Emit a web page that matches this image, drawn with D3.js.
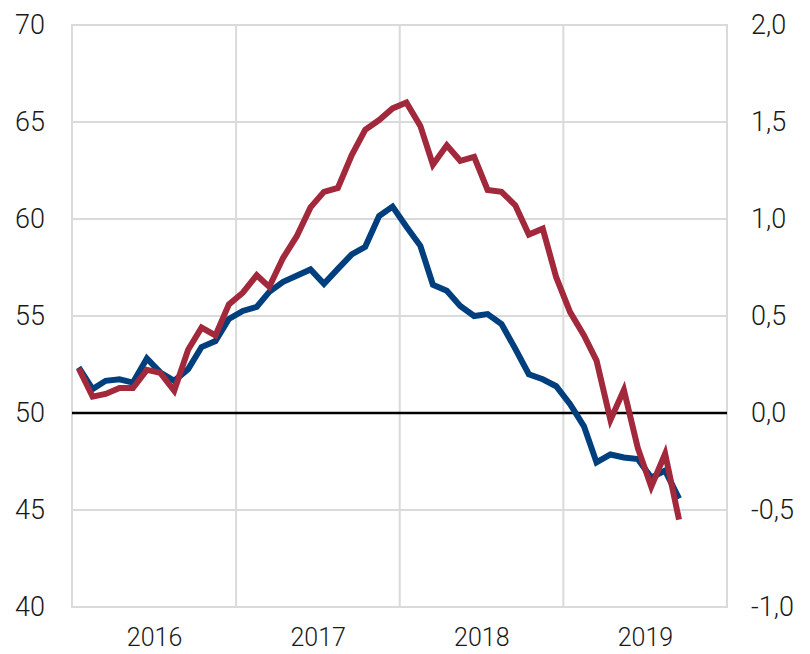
<!DOCTYPE html>
<html>
<head>
<meta charset="utf-8">
<script src="https://cdn.jsdelivr.net/npm/d3@7"></script>
<style>
  body { margin: 0; background: #fff; }
  svg text { font-family: Roboto, "Liberation Sans", Arial, sans-serif; font-weight: 300; fill: #1a1a1a; }
</style>
</head>
<body>
<div id="chart"></div>
<script>
// monthly data, Jan 2016 - Sep 2019
const startMonth = [2016, 0];
const blueValues = [52.35, 51.23, 51.66, 51.74, 51.57, 52.81, 52.09, 51.66, 52.26, 53.40,
  53.71, 54.85, 55.26, 55.47, 56.24, 56.76, 57.07, 57.40, 56.66, 57.43,
  58.18, 58.57, 60.15, 60.64, 59.60, 58.62, 56.61, 56.30, 55.52, 55.00,
  55.10, 54.59, 53.30, 52.00, 51.74, 51.38, 50.45, 49.31, 47.45, 47.86,
  47.71, 47.63, 46.67, 47.03, 45.59];
const redValues = [0.23, 0.084, 0.098, 0.129, 0.129, 0.222, 0.207, 0.115, 0.326, 0.44,
  0.40, 0.56, 0.62, 0.71, 0.65, 0.80, 0.91, 1.06, 1.14, 1.16,
  1.33, 1.46, 1.51, 1.57, 1.60, 1.48, 1.28, 1.38, 1.30, 1.32,
  1.15, 1.14, 1.07, 0.92, 0.95, 0.70, 0.52, 0.40, 0.27, -0.036,
  0.119, -0.18, -0.38, -0.21, -0.55];
const years = [2016, 2017, 2018, 2019];
const leftTicks = [40, 45, 50, 55, 60, 65, 70];
const rightTicks = [-1, -0.5, 0, 0.5, 1, 1.5, 2];

const W = 810, H = 654;
const m = { left: 72, right: 83, top: 25, bottom: 47 };

const svg = d3.select('#chart').append('svg').attr('width', W).attr('height', H);

const x = d3.scaleTime()
  .domain([new Date(2016, 0, 1), new Date(2020, 0, 1)])
  .range([m.left, W - m.right]);
const yL = d3.scaleLinear().domain([40, 70]).range([H - m.bottom, m.top]);
const yR = d3.scaleLinear().domain([-1, 2]).range([H - m.bottom, m.top]);

const mid = i => new Date(startMonth[0], startMonth[1] + i, 16);
const fmtR = d => d3.format('.1f')(d).replace('.', ',').replace('−', '-');

// grid
const grid = svg.append('g').attr('stroke', '#dadada').attr('stroke-width', 2);
leftTicks.forEach(t => {
  grid.append('line').attr('x1', m.left).attr('x2', W - m.right)
    .attr('y1', yL(t)).attr('y2', yL(t));
});
years.concat([2020]).forEach(yr => {
  grid.append('line').attr('x1', x(new Date(yr, 0, 1))).attr('x2', x(new Date(yr, 0, 1)))
    .attr('y1', m.top - 1).attr('y2', H - m.bottom + 1);
});

// zero line
svg.append('line').attr('x1', m.left).attr('x2', W - m.right)
  .attr('y1', yL(50)).attr('y2', yL(50)).attr('stroke', '#000').attr('stroke-width', 2.5);

// axes
const axL = svg.append('g').attr('transform', `translate(${m.left},0)`)
  .call(d3.axisLeft(yL).tickValues(leftTicks).tickSize(0).tickPadding(27));
const axR = svg.append('g').attr('transform', `translate(${W - m.right},0)`)
  .call(d3.axisRight(yR).tickValues(rightTicks).tickSize(0).tickPadding(24).tickFormat(fmtR));
const axB = svg.append('g').attr('transform', `translate(0,${H - m.bottom})`)
  .call(d3.axisBottom(x).tickValues(years.map(yr => new Date(yr, 6, 2)))
    .tickSize(0).tickPadding(21).tickFormat(d3.timeFormat('%Y')));
[axL, axR].forEach(a => a.selectAll('text').attr('font-size', 27));
axB.selectAll('text').attr('font-size', 25);
[axL, axR, axB].forEach(a => {
  a.select('.domain').remove();
  a.selectAll('text').attr('fill', '#1a1a1a').attr('font-weight', 300)
    .attr('font-family', 'Roboto, "Liberation Sans", Arial, sans-serif');
});

// lines
const lineL = d3.line().x((d, i) => x(mid(i))).y(d => yL(d));
const lineR = d3.line().x((d, i) => x(mid(i))).y(d => yR(d));

svg.append('path').datum(blueValues).attr('d', lineL)
  .attr('fill', 'none').attr('stroke', '#003f7d').attr('stroke-width', 6).attr('stroke-linejoin', 'miter');
svg.append('path').datum(redValues).attr('d', lineR)
  .attr('fill', 'none').attr('stroke', '#a2283b').attr('stroke-width', 6).attr('stroke-linejoin', 'miter');
</script>
</body>
</html>
